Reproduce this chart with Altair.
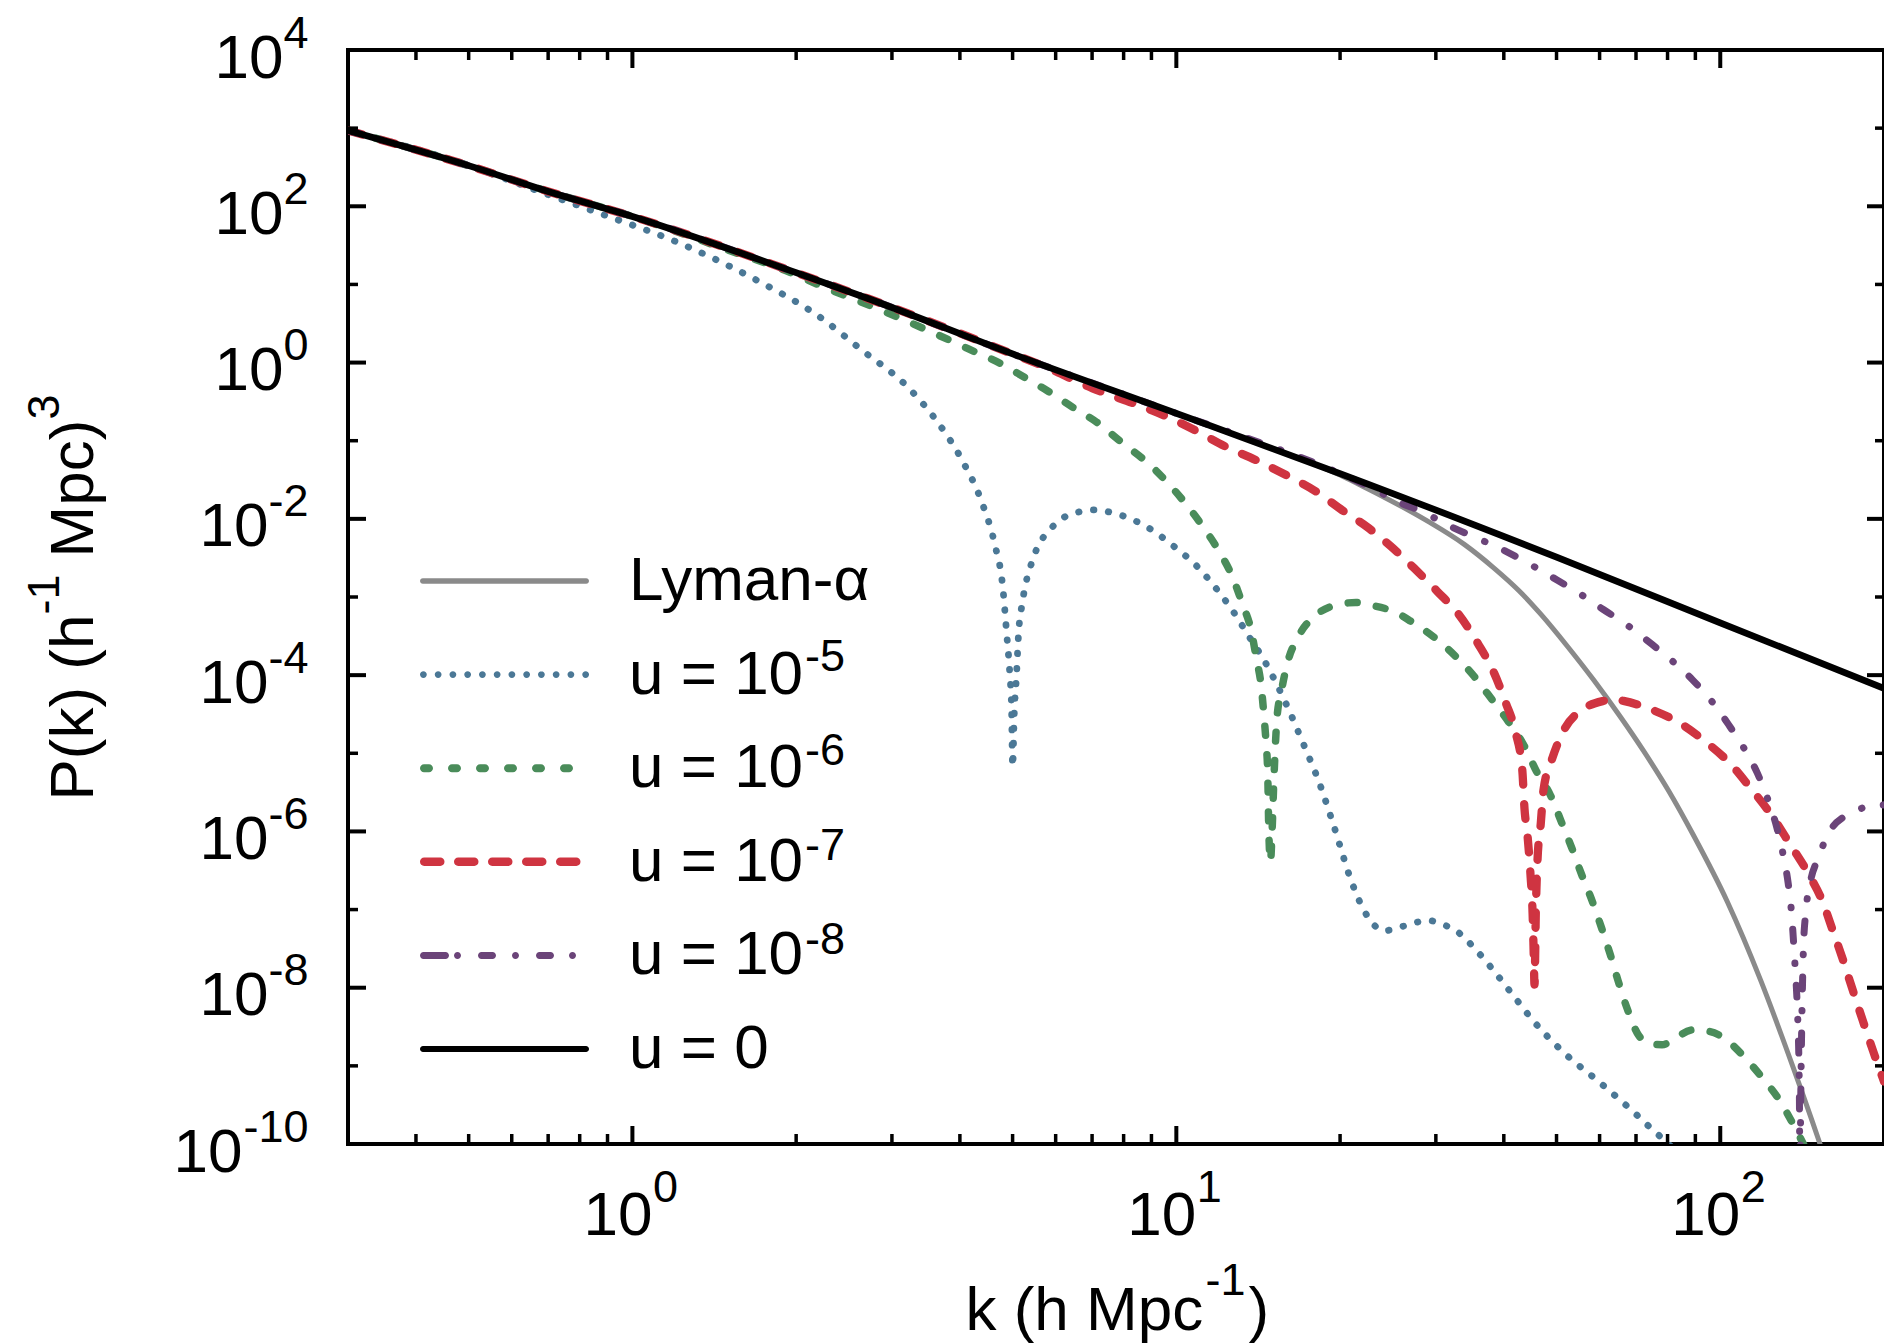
import math
import altair as alt
import pandas as pd

FONT = "Liberation Sans, Arial, Helvetica, sans-serif"
FS = 62       # main text size
FE = 45       # exponent text size
W, H = 1536, 1094

# ------------------------------------------------------------------
# Curves as log10(k) / log10(P)
# ------------------------------------------------------------------
grey_logk = [-0.523, -0.301, -0.155, 0.0, 0.301, 0.433, 0.699, 1.0, 1.2, 1.25, 1.301, 1.339, 1.376,
             1.462, 1.530, 1.584, 1.630, 1.670, 1.720, 1.767, 1.815, 1.859, 1.905, 1.950, 2.013,
             2.074, 2.134, 2.180, 2.205]
grey_logp = [2.97, 2.52, 2.19, 1.87, 1.15, 0.82, 0.11, -0.65, -1.16, -1.29, -1.44, -1.57, -1.70,
             -2.03, -2.33, -2.63, -2.92, -3.22, -3.64, -4.06, -4.52, -4.97, -5.48, -6.04, -6.90,
             -7.90, -9.02, -9.93, -10.45]

blue_logk = [-0.523, -0.301, -0.237, -0.155, -0.06, 0.086, 0.231, 0.341, 0.42, 0.510, 0.563, 0.607, 0.642,
             0.666, 0.681, 0.688, 0.694, 0.697, 0.699, 0.702, 0.706, 0.710, 0.717, 0.736, 0.756, 0.774,
             0.796, 0.822, 0.850, 0.875, 0.901, 0.950, 0.995, 1.037, 1.072, 1.105, 1.134, 1.163, 1.200,
             1.233, 1.264, 1.290, 1.323, 1.345, 1.360, 1.383, 1.409, 1.437, 1.464, 1.490, 1.516, 1.554,
             1.589, 1.624, 1.657, 1.714, 1.778, 1.839, 1.879, 1.905, 1.930]
blue_logp = [2.97, 2.52, 2.36, 2.15, 1.91, 1.53, 1.045, 0.60, 0.17, -0.34, -0.78, -1.26, -1.78,
             -2.32, -2.88, -3.46, -4.0, -4.40, -5.17, -4.50, -4.02, -3.46, -3.07, -2.52, -2.23, -2.09,
             -1.97, -1.91, -1.885, -1.91, -1.96, -2.12, -2.35, -2.60, -2.88, -3.19, -3.51, -3.83, -4.34,
             -4.87, -5.40, -5.94, -6.66, -7.01, -7.17, -7.27, -7.23, -7.17, -7.14, -7.19, -7.28, -7.54,
             -7.83, -8.14, -8.43, -8.84, -9.21, -9.58, -9.84, -10.0, -10.2]

green_logk = [-0.523, -0.301, -0.155, 0.0, 0.2, 0.27, 0.356, 0.440, 0.488, 0.534, 0.582, 0.629, 0.679,
              0.721, 0.765, 0.809, 0.853, 0.901, 0.950, 0.987, 1.020, 1.051, 1.079, 1.103, 1.121, 1.138,
              1.147, 1.156, 1.161, 1.165, 1.168, 1.170, 1.173, 1.176, 1.179, 1.182, 1.185, 1.193, 1.204,
              1.224, 1.257, 1.303, 1.330, 1.354, 1.404, 1.431, 1.473, 1.512, 1.548, 1.580, 1.611, 1.640,
              1.662, 1.688, 1.708, 1.727, 1.745, 1.765, 1.782, 1.798, 1.813, 1.829, 1.850, 1.872, 1.893,
              1.920, 1.950, 1.980, 2.004, 2.042, 2.077, 2.107, 2.138, 2.160]
green_logp = [2.97, 2.52, 2.19, 1.87, 1.38, 1.21, 0.955, 0.72, 0.58, 0.44, 0.29, 0.14, -0.02,
              -0.19, -0.37, -0.57, -0.76, -1.03, -1.30, -1.56, -1.83, -2.12, -2.42, -2.74, -3.08, -3.44,
              -3.78, -4.14, -4.51, -4.87, -5.25, -5.98, -6.39, -6.00, -5.40, -4.91, -4.55, -4.21, -3.85,
              -3.51, -3.23, -3.09, -3.07, -3.10, -3.20, -3.31, -3.51, -3.75, -4.02, -4.31, -4.60, -4.91,
              -5.23, -5.54, -5.88, -6.21, -6.55, -6.90, -7.24, -7.58, -7.93, -8.27, -8.61, -8.72, -8.73,
              -8.63, -8.54, -8.56, -8.63, -8.87, -9.15, -9.42, -9.80, -10.1]

red_logk = [-0.523, -0.301, -0.155, 0.0, 0.301, 0.433, 0.699, 0.761, 0.846, 0.932, 0.982, 1.030, 1.092,
            1.147, 1.202, 1.257, 1.305, 1.350, 1.394, 1.437, 1.480, 1.520, 1.554, 1.584, 1.606, 1.624,
            1.636, 1.640, 1.646, 1.651, 1.655, 1.657, 1.6585, 1.661, 1.664, 1.670, 1.675, 1.690, 1.712,
            1.749, 1.785, 1.803, 1.822, 1.877, 1.927, 1.976, 2.018, 2.055, 2.092, 2.128, 2.162, 2.187,
            2.207, 2.226, 2.244, 2.262, 2.281, 2.301]
red_logp = [2.97, 2.52, 2.19, 1.87, 1.15, 0.82, 0.11, -0.06, -0.33, -0.55, -0.69, -0.85, -1.08,
            -1.25, -1.44, -1.65, -1.89, -2.10, -2.35, -2.63, -2.93, -3.23, -3.59, -3.97, -4.36, -4.74,
            -5.21, -5.70, -6.08, -6.54, -7.05, -7.56, -7.96, -7.0, -6.37, -5.90, -5.47, -5.09, -4.71,
            -4.43, -4.33, -4.31, -4.33, -4.45, -4.62, -4.87, -5.13, -5.44, -5.77, -6.16, -6.54, -6.88,
            -7.27, -7.65, -8.04, -8.42, -8.81, -9.2]

purple_logk = [-0.523, -0.301, -0.155, 0.0, 0.301, 0.433, 0.699, 1.0, 1.301, 1.358, 1.407, 1.453, 1.499,
               1.547, 1.593, 1.642, 1.692, 1.740, 1.785, 1.829, 1.868, 1.912, 1.949, 1.985, 2.015, 2.044,
               2.068, 2.088, 2.104, 2.116, 2.125, 2.131, 2.135, 2.138, 2.141, 2.143, 2.1445, 2.1455,
               2.1465, 2.148, 2.150, 2.153, 2.157, 2.165, 2.180, 2.202, 2.230, 2.257, 2.301]
purple_logp = [2.97, 2.52, 2.19, 1.87, 1.15, 0.82, 0.11, -0.65, -1.42, -1.60, -1.78, -1.91, -2.08,
               -2.23, -2.37, -2.55, -2.75, -2.95, -3.16, -3.36, -3.57, -3.82, -4.06, -4.34, -4.63, -4.94,
               -5.25, -5.60, -5.95, -6.31, -6.67, -7.04, -7.44, -7.78, -8.14, -8.51, -8.89, -9.4,
               -10.5, -9.4, -8.4, -7.48, -7.05, -6.67, -6.34, -5.99, -5.80, -5.71, -5.66]

black_logk = [-0.523, -0.301, -0.155, 0.0, 0.301, 0.433, 0.699, 1.0, 1.301, 1.699, 2.0, 2.301]
black_logp = [2.97, 2.52, 2.19, 1.87, 1.15, 0.82, 0.11, -0.65, -1.42, -2.49, -3.33, -4.17]

series_keys = ["lya", "u5", "u6", "u7", "u8", "u0"]
series_names = ["Lyman-α", "u = 10", "u = 10", "u = 10", "u = 10", "u = 0"]
series_exps = ["\u00a0", "-5", "-6", "-7", "-8", "\u00a0"]
series_colors = ["#8a8a8a", "#4b7896", "#4a8c5a", "#cf3441", "#6b4479", "#000000"]
series_logk = [grey_logk, blue_logk, green_logk, red_logk, purple_logk, black_logk]
series_logp = [grey_logp, blue_logp, green_logp, red_logp, purple_logp, black_logp]

# ticks and tick labels
x_major = [1, 10, 100]
x_major_exp = ["0", "1", "2"]
x_minor = [0.4, 0.5, 0.6, 0.7, 0.8, 0.9, 2, 3, 4, 5, 6, 7, 8, 9, 20, 30, 40, 50, 60, 70, 80, 90]
y_major = [1e4, 1e2, 1, 1e-2, 1e-4, 1e-6, 1e-8, 1e-10]
y_major_exp = ["4", "2", "0", "-2", "-4", "-6", "-8", "-10"]
y_minor = [1e3, 1e1, 1e-1, 1e-3, 1e-5, 1e-7, 1e-9]

# ------------------------------------------------------------------
rows = []
for key, lk, lp in zip(series_keys, series_logk, series_logp):
    assert len(lk) == len(lp), key
    for i, (a, b) in enumerate(zip(lk, lp)):
        rows.append({"series": key, "k": 10 ** a, "P": 10 ** b, "i": i})
lines_df = pd.DataFrame(rows)

line_styles = {
    "lya": dict(strokeWidth=5),
    "u5": dict(strokeWidth=6.8, strokeDash=[0.5, 14.5]),
    "u6": dict(strokeWidth=7.5, strokeDash=[9, 19.5]),
    "u7": dict(strokeWidth=8.3, strokeDash=[15, 19]),
    "u8": dict(strokeWidth=7, strokeDash=[12, 22, 0.5, 21.5]),
    "u0": dict(strokeWidth=6.7),
}

xs = alt.Scale(type="log", domain=[0.3, 200], nice=False)
ys = alt.Scale(type="log", domain=[1e-10, 1e4], nice=False)


def exp_expr(values, labels):
    expr = "''"
    for v, lab in reversed(list(zip(values, labels))):
        e = round(math.log10(v))
        expr = f"round(log(datum.value)/LN10) == {e} ? '{lab}' : ({expr})"
    return expr


def label_map_expr(keys, labels):
    expr = "''"
    for k, lab in reversed(list(zip(keys, labels))):
        expr = f"datum.label == '{k}' ? '{lab}' : ({expr})"
    return expr


def axis(**kw):
    base = dict(domain=False, ticks=False, tickSize=0, grid=False, labelFlush=False,
                labelOverlap=False, labelColor="black", labelFont=FONT, titleFont=FONT,
                titleColor="black", titleFontWeight="normal")
    base.update(kw)
    return alt.Axis(**base)


# legend symbol shapes: custom paths.  The symbol box is 64 px (unit = 32 px) and is
# centred 32 px from the legend's left edge; the drawn sample runs from 0 to 169 px.
U = 32.0


def capsule(xa, xb, r):
    a, b, rr = (xa - U) / U, (xb - U) / U, r / U
    return (f"M{a:.4f},{-rr:.4f}L{b:.4f},{-rr:.4f}A{rr:.4f},{rr:.4f} 0 0 1 {b:.4f},{rr:.4f}"
            f"L{a:.4f},{rr:.4f}A{rr:.4f},{rr:.4f} 0 0 1 {a:.4f},{-rr:.4f}Z")


def pattern_path(segs, r):
    # segs: list of (start, end) in px measured from the left end of the sample
    return "".join(capsule(s + r, e - r, r) for s, e in segs)


blue_segs = [(i * 14.75, i * 14.75 + 6.8) for i in range(12)]
green_segs = [(i * 28, i * 28 + 13) for i in range(6)]
red_segs = [(i * 34, i * 34 + 24.5) for i in range(5)]
purple_segs = [(0, 29), (34, 41), (58, 76), (92, 99), (116, 134), (149, 156)]
legend_paths = [
    pattern_path([(0, 169)], 2.8),
    pattern_path(blue_segs, 3.4),
    pattern_path(green_segs, 4.0),
    pattern_path(red_segs, 4.2),
    pattern_path(purple_segs, 3.5),
    pattern_path([(0, 169)], 3.0),
]


def build(use_cond):
    if use_cond:
        pad_a = {"condition": [{"test": "datum.value < 1e-9", "value": 106},
                               {"test": "datum.value < 0.5", "value": 80}],
                 "value": 65}
    else:
        pad_a = 72

    xA = axis(orient="bottom", values=x_major, labelExpr="'10'", labelFontSize=FS,
              labelAlign="right", labelBaseline="alphabetic", labelOffset=19.5, labelPadding=90,
              title="k (h Mpc", titleFontSize=FS, titleAlign="left", titleBaseline="alphabetic",
              titleX=617, titleY=185, titleAngle=0)
    xB = axis(orient="bottom", values=x_major, labelExpr=exp_expr(x_major, x_major_exp),
              labelFontSize=FE, labelAlign="left", labelBaseline="alphabetic", labelOffset=20,
              labelPadding=57, title="-1", titleFontSize=FE, titleAlign="left",
              titleBaseline="alphabetic", titleX=857, titleY=150, titleAngle=0)
    xC = axis(orient="bottom", labels=False, title=")", titleFontSize=FS, titleAlign="left",
              titleBaseline="alphabetic", titleX=900, titleY=185, titleAngle=0)

    yA = axis(orient="left", values=y_major, labelExpr="'10'", labelFontSize=FS,
              labelAlign="right", labelBaseline="alphabetic", labelOffset=27, labelPadding=pad_a,
              title="P(k) (h", titleFontSize=FS, titleAngle=270, titleAlign="left",
              titleBaseline="alphabetic", titleX=-256, titleY=750)
    yB = axis(orient="left", values=y_major, labelExpr=exp_expr(y_major, y_major_exp),
              labelFontSize=FE, labelAlign="right", labelBaseline="alphabetic", labelOffset=-3,
              labelPadding=40, title="-1", titleFontSize=FE, titleAngle=270, titleAlign="left",
              titleBaseline="alphabetic", titleX=-290, titleY=564)
    yC = axis(orient="left", labels=False, title="Mpc)", titleFontSize=FS, titleAngle=270,
              titleAlign="left", titleBaseline="alphabetic", titleX=-256, titleY=507)
    yD = axis(orient="left", labels=False, title="3", titleFontSize=FE, titleAngle=270,
              titleAlign="left", titleBaseline="alphabetic", titleX=-290, titleY=369)

    layers = []
    for n, key in enumerate(series_keys):
        st = line_styles[key]
        layers.append(
            alt.Chart(lines_df)
            .transform_filter(alt.datum.series == key)
            .mark_line(color=series_colors[n], strokeCap="round", strokeJoin="round",
                       clip=True, interpolate="monotone", **st)
            .encode(
                x=alt.X("k:Q", scale=xs, axis=xA if n == 0 else None),
                y=alt.Y("P:Q", scale=ys, axis=yA if n == 0 else None),
                order=alt.Order("i:Q"),
            )
        )

    def ydf(v):
        return pd.DataFrame({"v": v})

    # inward ticks on all four sides
    layers += [
        alt.Chart(ydf(y_major)).mark_rule(color="black", strokeWidth=4).encode(
            y=alt.Y("v:Q", scale=ys, axis=yB), x=alt.value(0), x2=alt.value(18)),
        alt.Chart(ydf(y_minor)).mark_rule(color="black", strokeWidth=3.5).encode(
            y=alt.Y("v:Q", scale=ys, axis=yC), x=alt.value(0), x2=alt.value(10)),
        alt.Chart(ydf(y_major)).mark_rule(color="black", strokeWidth=4).encode(
            y=alt.Y("v:Q", scale=ys, axis=yD), x=alt.value(W), x2=alt.value(W - 17)),
        alt.Chart(ydf(y_minor)).mark_rule(color="black", strokeWidth=3.5).encode(
            y=alt.Y("v:Q", scale=ys, axis=None), x=alt.value(W), x2=alt.value(W - 9)),
        alt.Chart(ydf(x_major)).mark_rule(color="black", strokeWidth=4).encode(
            x=alt.X("v:Q", scale=xs, axis=xB), y=alt.value(H), y2=alt.value(H - 18)),
        alt.Chart(ydf(x_minor)).mark_rule(color="black", strokeWidth=3.5).encode(
            x=alt.X("v:Q", scale=xs, axis=xC), y=alt.value(H), y2=alt.value(H - 10)),
        alt.Chart(ydf(x_major)).mark_rule(color="black", strokeWidth=4).encode(
            x=alt.X("v:Q", scale=xs, axis=None), y=alt.value(0), y2=alt.value(18)),
        alt.Chart(ydf(x_minor)).mark_rule(color="black", strokeWidth=3.5).encode(
            x=alt.X("v:Q", scale=xs, axis=None), y=alt.value(0), y2=alt.value(10)),
    ]

    # legend: rows 93.6 px apart.  Entry height = half entry size + half label height.
    exp_keys = ["e_" + k for k in series_keys]
    legA = alt.Legend(orient="none", legendX=72, legendY=499, title=None, padding=0,
                      symbolSize=U * U * 4, symbolStrokeWidth=0, symbolOpacity=1,
                      labelExpr=label_map_expr(series_keys, series_names),
                      labelFont=FONT, labelFontSize=FS, labelColor="black", labelOffset=145,
                      labelLimit=2000, rowPadding=30.6)
    legB = alt.Legend(orient="none", legendX=409, legendY=489.5, title=None, padding=0,
                      symbolSize=0, symbolStrokeWidth=0, symbolOpacity=0,
                      labelExpr=label_map_expr(exp_keys, series_exps),
                      labelFont=FONT, labelFontSize=FE, labelColor="black", labelOffset=3,
                      labelLimit=2000, rowPadding=48.6)
    leg_df = pd.DataFrame({"series": series_keys, "expkey": exp_keys})
    layers.append(
        alt.Chart(leg_df).mark_point(filled=True, size=0, strokeWidth=0, opacity=1).encode(
            color=alt.Color("series:N", scale=alt.Scale(domain=series_keys, range=series_colors),
                            legend=legA),
            shape=alt.Shape("series:N", scale=alt.Scale(domain=series_keys, range=legend_paths),
                            legend=legA),
            stroke=alt.Stroke("expkey:N", scale=alt.Scale(domain=exp_keys, range=["#000000"] * 6),
                              legend=legB),
        )
    )

    ch = (
        alt.layer(*layers)
        .resolve_scale(x="shared", y="shared")
        .resolve_axis(x="independent", y="independent")
        .properties(width=W, height=H, background="white",
                    autosize=alt.AutoSizeParams(type="none"),
                    padding={"left": 348, "top": 50, "right": 0, "bottom": 199})
        .configure_view(stroke="black", strokeWidth=4)
    )
    return ch


try:
    chart = build(True)
    chart.to_dict()
except Exception:
    chart = build(False)

chart.save("out.html", embed_options={"renderer": "svg", "actions": False})
